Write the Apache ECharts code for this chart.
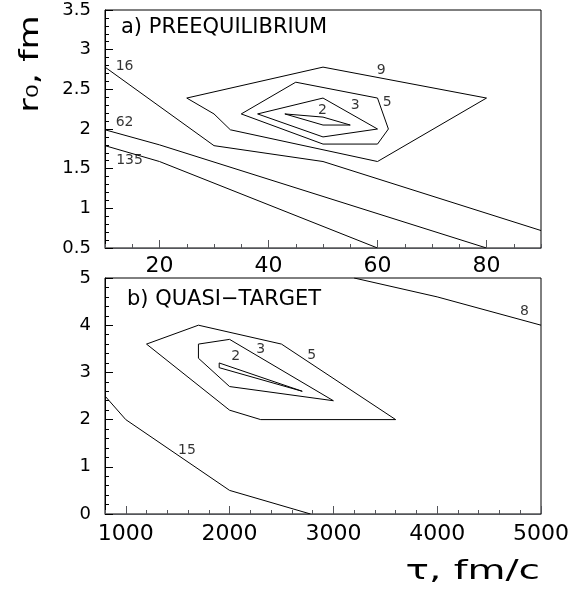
<!DOCTYPE html>
<html>
<head>
<meta charset="utf-8">
<script src="https://cdn.jsdelivr.net/npm/echarts@6/dist/echarts.min.js"></script>
<style>
  html, body { margin: 0; padding: 0; background: #fff; }
  #chart { width: 579px; height: 593px; }
</style>
</head>
<body>
<div id="chart"></div>
<script>
// a) preequilibrium: tau (fm/c) vs r0 (fm), contour lines
const aContour16 = [[10, 2.78], [30, 1.79], [50, 1.59], [90, 0.72]];
const aContour62 = [[10, 1.99], [20, 1.80], [80, 0.5]];
const aContour135 = [[10, 1.79], [20, 1.59], [60, 0.5]];
const aContour9 = [[25, 2.39], [50, 2.78], [80, 2.39], [60, 1.59], [33, 1.99], [30, 2.19], [25, 2.39]];
const aContour5 = [[35, 2.19], [45, 2.59], [60, 2.39], [62, 2.0], [60, 1.81], [50, 1.81], [35, 2.19]];
const aContour3 = [[38, 2.19], [50, 2.39], [60, 2.0], [50, 1.9], [38, 2.19]];
const aContour2 = [[43, 2.19], [50, 2.15], [55, 2.05], [50, 2.05], [43, 2.19]];
const aLabels = ["16", "62", "135", "9", "5", "3", "2"];
const aLabelPos = [[13.6, 2.79], [13.6, 2.08], [14.5, 1.6], [60.7, 2.74], [61.8, 2.34], [55.9, 2.3], [49.9, 2.24]];
const aXTicks = [20, 40, 60, 80];

// b) quasi-target
const bContour8 = [[3200, 5.0], [4000, 4.6], [5000, 4.0]];
const bContour15 = [[800, 2.5], [1000, 2.0], [2000, 0.5], [2780, 0]];
const bContour5 = [[1200, 3.6], [1700, 4.0], [2500, 3.6], [3600, 2.0], [2300, 2.0], [2000, 2.2], [1200, 3.6]];
const bContour3 = [[1700, 3.6], [2000, 3.7], [3000, 2.4], [2000, 2.7], [1700, 3.3], [1700, 3.6]];
const bContour2 = [[1900, 3.2], [2700, 2.6], [1900, 3.1], [1900, 3.2]];
const bLabels = ["8", "5", "3", "2", "15"];
const bLabelPos = [[4840, 4.29], [2790, 3.36], [2300, 3.49], [2060, 3.33], [1590, 1.34]];
const bXTicks = [1000, 2000, 3000, 4000, 5000];

const FONT = "DejaVu Sans";

const contourLine = (data, idx) => ({
  type: "line",
  data: data,
  xAxisIndex: idx * 2,
  yAxisIndex: idx,
  symbol: "none",
  silent: true,
  lineStyle: { color: "#000", width: 1 },
});

const labelSeries = (names, pos, idx) => ({
  type: "scatter",
  xAxisIndex: idx * 2,
  yAxisIndex: idx,
  symbolSize: 0,
  silent: true,
  data: names.map((n, i) => ({ name: n, value: pos[i] })),
  label: {
    show: true,
    position: "inside",
    formatter: "{b}",
    color: "#000",
    fontFamily: FONT,
    fontSize: 14,
  },
});

// major axis: labels + long ticks at custom values
const xMajor = (grid, min, max, vals, margin) => ({
  type: "value",
  gridIndex: grid,
  z: 10,
  min: min,
  max: max,
  axisTick: { show: true, inside: true, length: 8, customValues: vals },
  axisLabel: { customValues: vals, color: "#000", fontFamily: FONT, fontSize: 22, margin: margin, formatter: (v) => String(v) },
  splitLine: { show: false },
});
// minor axis on the same edge: only the short ticks
const xMinor = (grid, min, max, step) => ({
  type: "value",
  gridIndex: grid,
  z: 10,
  position: "bottom",
  min: min,
  max: max,
  interval: step,
  axisLine: { show: false },
  axisTick: { show: true, inside: true, length: 4 },
  axisLabel: { show: false },
  splitLine: { show: false },
});
const yAxis = (grid, min, max, step) => ({
  type: "value",
  gridIndex: grid,
  z: 10,
  min: min,
  max: max,
  interval: step,
  axisLine: { show: true, lineStyle: { color: "#000" } },
  axisTick: { show: true, inside: true, length: 8 },
  minorTick: { show: true, splitNumber: 5, length: 4 },
  axisLabel: { color: "#000", fontFamily: FONT, fontSize: 18, margin: 14 },
  splitLine: { show: false },
});

const chart = echarts.init(document.getElementById("chart"));
chart.setOption({
  animation: false,
  backgroundColor: "#fff",
  grid: [
    { left: 105, top: 10, width: 436, height: 238, show: true, borderColor: "#000", borderWidth: 1 },
    { left: 105, top: 278, width: 436, height: 236, show: true, borderColor: "#000", borderWidth: 1 },
  ],
  xAxis: [
    xMajor(0, 10, 90, aXTicks, 7),
    xMinor(0, 10, 90, 5),
    xMajor(1, 800, 5000, bXTicks, 9),
    xMinor(1, 800, 5000, 200),
  ],
  yAxis: [
    yAxis(0, 0.5, 3.5, 0.5),
    yAxis(1, 0, 5, 1),
  ],
  series: [
    contourLine(aContour16, 0),
    contourLine(aContour62, 0),
    contourLine(aContour135, 0),
    contourLine(aContour9, 0),
    contourLine(aContour5, 0),
    contourLine(aContour3, 0),
    contourLine(aContour2, 0),
    labelSeries(aLabels, aLabelPos, 0),
    contourLine(bContour8, 1),
    contourLine(bContour15, 1),
    contourLine(bContour5, 1),
    contourLine(bContour3, 1),
    contourLine(bContour2, 1),
    labelSeries(bLabels, bLabelPos, 1),
  ],
  graphic: [
    {
      type: "text", x: 121, y: 28,
      style: { text: "a) PREEQUILIBRIUM", fontFamily: FONT, fontSize: 21, fill: "#000", textVerticalAlign: "middle" },
    },
    {
      type: "text", x: 127, y: 300,
      style: { text: "b) QUASI\u2212TARGET", fontFamily: FONT, fontSize: 21, fill: "#000", textVerticalAlign: "middle" },
    },
    {
      type: "text", x: 31, y: 64, rotation: Math.PI / 2, scaleX: 1.3,
      style: { text: "r\u2080, fm", fontFamily: FONT, fontSize: 27, fill: "#000", textAlign: "center", textVerticalAlign: "middle" },
    },
    {
      type: "text", x: 540, y: 572, scaleX: 1.5,
      style: { text: "\u03c4, fm/c", fontFamily: FONT, fontSize: 26, fill: "#000", textAlign: "right", textVerticalAlign: "middle" },
    },
  ],
});
</script>
</body>
</html>
